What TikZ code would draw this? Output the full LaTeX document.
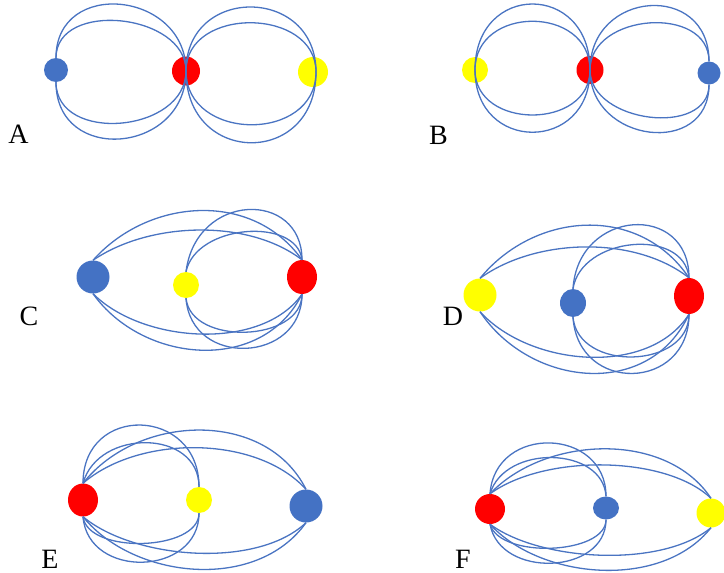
\documentclass[tikz,border=0pt]{standalone}
\usepackage{fontspec}
\setmainfont{Liberation Serif}
\usetikzlibrary{shapes.geometric}
\definecolor{dotblue}{HTML}{4472C4}
\definecolor{dotred}{HTML}{FF0000}
\definecolor{dotyellow}{HTML}{FFFF00}
\definecolor{wireblue}{HTML}{4A74C2}
\begin{document}
\begin{tikzpicture}[x=1pt,y=-1pt,
  basedot/.style={ellipse,inner sep=0pt,draw=none},
  bdot/.style={basedot,fill=dotblue},
  rdot/.style={basedot,fill=dotred},
  ydot/.style={basedot,fill=dotyellow},
  wire/.style={draw=wireblue,line width=1.3pt},
  lab/.style={font=\fontsize{28}{28}\selectfont,inner sep=0pt}]
\useasboundingbox (0,0) rectangle (724,573);

% ---------- Panel A ----------
\node[bdot,minimum width=24,minimum height=24] (A1) at (56,70) {};
\node[rdot,minimum width=28,minimum height=29] (A2) at (186,71) {};
\node[ydot,minimum width=30,minimum height=30] (A3) at (313,72) {};
\coordinate (A3x) at ([xshift=3pt]A3.center);
\draw[wire] (A1.north) .. controls +(0,-80) and +(0,-80) .. (A2.center);
\draw[wire] (A1.north) .. controls +(0,-58) and +(0,-58) .. (A2.center);
\draw[wire] (A1.south) .. controls +(0,83) and +(0,83) .. (A2.center);
\draw[wire] (A1.south) .. controls +(0,62) and +(0,62) .. (A2.center);
\draw[wire] (A2.center) .. controls +(0,-86) and +(0,-86) .. (A3x);
\draw[wire] (A2.center) .. controls +(0,-65) and +(0,-65) .. (A3x);
\draw[wire] (A2.center) .. controls +(0,95) and +(0,95) .. (A3x);
\draw[wire] (A2.center) .. controls +(0,71) and +(0,71) .. (A3x);
\node[lab] (LA) at (18.5,134) {A};

% ---------- Panel B ----------
\node[ydot,minimum width=26,minimum height=26] (B1) at (475,70) {};
\node[rdot,minimum width=27,minimum height=28] (B2) at (590,70) {};
\node[bdot,minimum width=23,minimum height=23] (B3) at (709,73) {};
\draw[wire] (B1.center) .. controls +(0,-88) and +(0,-88) .. (B2.center);
\draw[wire] (B1.center) .. controls +(0,-65) and +(0,-65) .. (B2.center);
\draw[wire] (B1.center) .. controls +(0,83) and +(0,83) .. (B2.center);
\draw[wire] (B1.center) .. controls +(0,60) and +(0,60) .. (B2.center);
\draw[wire] (B2.center) .. controls +(0,-80) and +(0,-80) .. (B3.north);
\draw[wire] (B2.center) .. controls +(0,-57) and +(0,-57) .. (B3.north);
\draw[wire] (B2.center) .. controls +(0,73) and +(0,73) .. (B3.south);
\draw[wire] (B2.center) .. controls +(0,53) and +(0,53) .. (B3.south);
\node[lab] (LB) at (438.5,135) {B};

% ---------- Panel C ----------
\node[bdot,minimum width=33,minimum height=33] (C1) at (93,277) {};
\node[ydot,minimum width=26,minimum height=26] (C2) at (186,285) {};
\node[rdot,minimum width=30,minimum height=34] (C3) at (302,277) {};
\draw[wire] (C1.north) .. controls +(55,-62) and +(-50,-70) .. (C3.north);
\draw[wire] (C1.north) .. controls +(55,-38) and +(-55,-42) .. (C3.north);
\draw[wire] (C1.south) .. controls +(50,70) and +(-40,80) .. (C3.south);
\draw[wire] (C1.south) .. controls +(50,50) and +(-40,57) .. (C3.south);
\draw[wire] (C2.north) .. controls +(10,-80) and +(0,-70) .. (C3.north);
\draw[wire] (C2.north) .. controls +(10,-48) and +(-5,-43) .. (C3.north);
\draw[wire] (C2.south) .. controls +(5,70) and +(0,69) .. (C3.south);
\draw[wire] (C2.south) .. controls +(5,48) and +(0,48) .. (C3.south);
\node[lab] (LC) at (29,316) {C};

% ---------- Panel D ----------
\node[ydot,minimum width=33,minimum height=33] (D1) at (480,295) {};
\node[bdot,minimum width=26,minimum height=28] (D2) at (573,303) {};
\node[rdot,minimum width=30,minimum height=36] (D3) at (689,296) {};
\draw[wire] (D1.north) .. controls +(55,-67) and +(-50,-74) .. (D3.north);
\draw[wire] (D1.north) .. controls +(55,-40) and +(-55,-43) .. (D3.north);
\draw[wire] (D1.south) .. controls +(50,75) and +(-40,86) .. (D3.south);
\draw[wire] (D1.south) .. controls +(50,55) and +(-40,63) .. (D3.south);
\draw[wire] (D2.north) .. controls +(5,-80) and +(0,-76) .. (D3.north);
\draw[wire] (D2.north) .. controls +(8,-52) and +(-5,-51) .. (D3.north);
\draw[wire] (D2.south) .. controls +(5,77) and +(0,77) .. (D3.south);
\draw[wire] (D2.south) .. controls +(5,55) and +(0,55) .. (D3.south);
\node[lab] (LD) at (453,316) {D};

% ---------- Panel E ----------
\node[rdot,minimum width=30,minimum height=33] (E1) at (83,500) {};
\node[ydot,minimum width=26,minimum height=26] (E2) at (199,500) {};
\node[bdot,minimum width=33,minimum height=33] (E3) at (306,506) {};
\draw[wire] (E1.north) .. controls +(0,-80) and +(0,-80) .. (E2.north);
\draw[wire] (E1.north) .. controls +(15,-55) and +(0,-58) .. (E2.north);
\draw[wire] (E1.north) .. controls +(55,-70) and +(-40,-80) .. (E3.north);
\draw[wire] (E1.north) .. controls +(55,-48) and +(-50,-55) .. (E3.north);
\draw[wire] (E1.south) .. controls +(50,62) and +(-50,70) .. (E3.south);
\draw[wire] (E1.south) .. controls +(50,42) and +(-50,47) .. (E3.south);
\draw[wire] (E1.south) .. controls +(5,63) and +(0,63) .. (E2.south);
\draw[wire] (E1.south) .. controls +(5,38) and +(0,38) .. (E2.south);
\node[lab] (LE) at (50,559) {E};

% ---------- Panel F ----------
\node[rdot,minimum width=30,minimum height=30] (F1) at (490,509) {};
\node[bdot,minimum width=26,minimum height=23] (F2) at (606,508) {};
\node[ydot,minimum width=29,minimum height=29] (F3) at (711,513) {};
\draw[wire] (F1.north) .. controls +(5,-70) and +(0,-69) .. (F2.north);
\draw[wire] (F1.north) .. controls +(15,-50) and +(-3,-50) .. (F2.north);
\draw[wire] (F1.north) .. controls +(55,-58) and +(-45,-68) .. (F3.north);
\draw[wire] (F1.north) .. controls +(55,-40) and +(-45,-43) .. (F3.north);
\draw[wire] (F1.south) .. controls +(10,55) and +(0,55) .. (F2.south);
\draw[wire] (F1.south) .. controls +(10,35) and +(0,35) .. (F2.south);
\draw[wire] (F1.south) .. controls +(50,55) and +(-50,63) .. (F3.south);
\draw[wire] (F1.south) .. controls +(50,37) and +(-50,41) .. (F3.south);
\node[lab] (LF) at (463,559) {F};
\end{tikzpicture}
\end{document}
